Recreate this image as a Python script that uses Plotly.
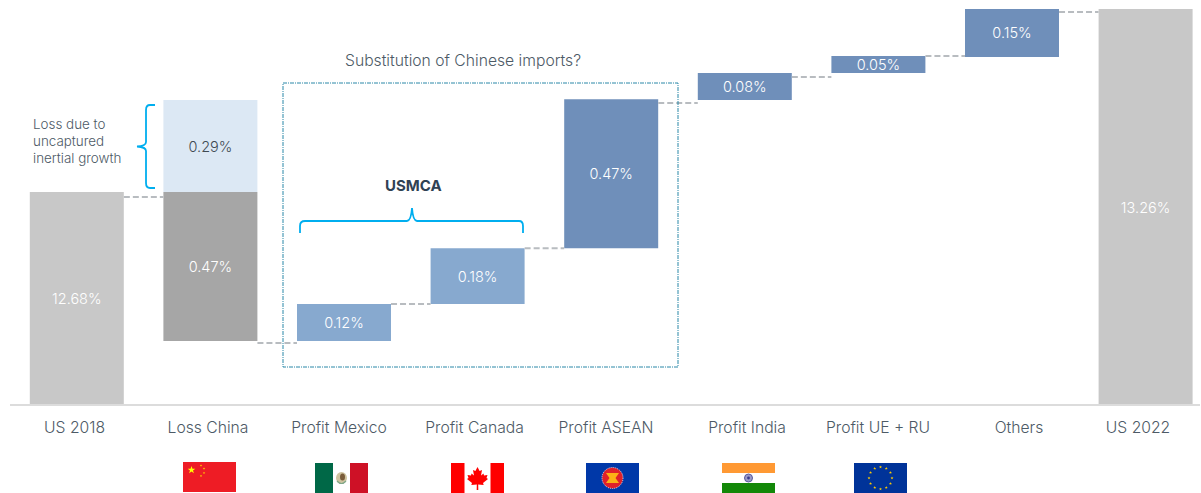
import base64, math
import plotly.graph_objects as go

W, H = 1201, 493
BASE_PX = 405
FONT = "Inter, 'Open Sans', sans-serif"

categories = ["US 2018", "Loss China", "Profit Mexico", "Profit Canada", "Profit ASEAN",
              "Profit India", "Profit UE + RU", "Others", "US 2022"]
bar_bottom = [12.0, 12.203, 12.203, 12.321, 12.498, 12.968, 13.054, 13.105, 12.0]
bar_top = [12.676, 12.676, 12.321, 12.498, 12.971, 13.054, 13.108, 13.257, 13.257]
bar_labels = ["12.68%", "0.47%", "0.12%", "0.18%", "0.47%", "0.08%", "0.05%", "0.15%", "13.26%"]
bar_colors = ["#c8c8c8", "#a6a6a6", "#87a9cf", "#87a9cf", "#6f8fba", "#6f8fba", "#6f8fba", "#6f8fba", "#c8c8c8"]
extra_bottom = [12.676]
extra_top = [12.968]
extra_label = ["0.29%"]
connector_levels = [12.66, 12.197, 12.321, 12.498, 12.959, 13.041, 13.108, 13.248]
tick_centers_px = [74.5, 208, 339, 474.5, 606, 747, 878, 1019, 1138]

STEP = 133.6
FIRST = 76.8
x_range = [-FIRST / STEP, (W - FIRST) / STEP]
k = 315
y_range = [12.0, 12.0 + BASE_PX / k]
positions = list(range(len(categories)))


def px(x):
    return x / W


def py(y):
    return (BASE_PX - y) / BASE_PX


def uri(svg):
    return "data:image/svg+xml;base64," + base64.b64encode(svg.encode()).decode()


def star(cx, cy, r, fill):
    pts = []
    for i in range(10):
        a = -math.pi / 2 + i * math.pi / 5
        rr = r if i % 2 == 0 else r * 0.4
        pts.append(f"{cx + rr * math.cos(a):.2f},{cy + rr * math.sin(a):.2f}")
    return f'<polygon points="{" ".join(pts)}" fill="{fill}"/>'


def svg(body):
    return f'<svg xmlns="http://www.w3.org/2000/svg" width="53" height="30" viewBox="0 0 53 30">{body}</svg>'


china = svg('<rect width="53" height="30" fill="#ee1c25"/>' + star(8.5, 8, 4, "#ffff00")
            + star(18, 3.5, 1.3, "#ffcc00") + star(21, 6.5, 1.3, "#ffcc00")
            + star(21, 11, 1.3, "#ffcc00") + star(18, 14, 1.3, "#ffcc00"))
mexico = svg('<rect width="18" height="30" fill="#006847"/><rect x="18" width="17" height="30" fill="#fff"/>'
             '<rect x="35" width="18" height="30" fill="#ce1126"/>'
             '<ellipse cx="26.5" cy="15" rx="5.5" ry="6" fill="#cfc4a0"/><ellipse cx="27.5" cy="14" rx="2.5" ry="3.5" fill="#7a5c3a"/>'
             '<path d="M22 18 Q26.5 23 31 18" fill="none" stroke="#7fa88a" stroke-width="1.2"/>')
canada = svg('<rect width="53" height="30" fill="#ff0000"/><rect x="13.5" width="26" height="30" fill="#fff"/>'
             '<path d="M26.5 4 L28.6 8 L31 7 L30 12.5 L32.5 10.5 L33 12.5 L36.5 12 L35.5 15 L37 16 L32 20 L32.7 22 L27.2 21.4 L27.3 27 L25.7 27 L25.8 21.4 L20.3 22 L21 20 L16 16 L17.5 15 L16.5 12 L20 12.5 L20.5 10.5 L23 12.5 L22 7 L24.4 8 Z" fill="#ff0000"/>')
asean = svg('<rect width="53" height="30" fill="#0038a8"/><circle cx="26.5" cy="15" r="10.5" fill="#e0202a" stroke="#fff" stroke-width="0.8" stroke-dasharray="1 1"/>'
            '<path d="M20 10 L33 10 L29.5 15 L33 20 L20 20 L23.5 15 Z" fill="#fcb116"/>')
india = svg('<rect width="53" height="10" fill="#ff9933"/><rect y="10" width="53" height="10" fill="#fff"/>'
            '<rect y="20" width="53" height="10" fill="#138808"/>'
            '<circle cx="26.5" cy="15" r="4" fill="#9a9ac8" stroke="#5a5a9c" stroke-width="1"/><circle cx="26.5" cy="15" r="1.4" fill="#3a3a8c"/>')
eu_stars = "".join(star(26.5 + 11.5 * math.cos(i * math.pi / 6), 15 + 11 * math.sin(i * math.pi / 6), 1.6, "#ffcc00") for i in range(12))
eu = svg('<rect width="53" height="30" fill="#003399"/>' + eu_stars)

flags = [(china, 183, 462), (mexico, 315, 463), (canada, 451, 463), (asean, 586, 463), (india, 722, 463), (eu, 854, 463)]

fig = go.Figure()
fig.add_bar(x=positions, base=bar_bottom, y=[t - b for t, b in zip(bar_top, bar_bottom)],
            marker=dict(color=bar_colors, line=dict(width=0)), width=94 / STEP,
            text=bar_labels, textposition="inside", insidetextanchor="middle", textangle=0,
            constraintext="none", textfont=dict(family=FONT, size=14.5, color="#ffffff", weight=300),
            hoverinfo="skip", showlegend=False)
fig.add_bar(x=positions[1:2], base=extra_bottom, y=[t - b for t, b in zip(extra_top, extra_bottom)],
            marker=dict(color="#dce8f4", line=dict(width=0)), width=94 / STEP,
            text=extra_label, textposition="inside", insidetextanchor="middle", textangle=0,
            constraintext="none", textfont=dict(family=FONT, size=14.5, color="#404a52", weight=300),
            hoverinfo="skip", showlegend=False)

shapes = []
for i, lvl in enumerate(connector_levels):
    shapes.append(dict(type="line", xref="x", yref="y", x0=i + 0.352, x1=i + 0.648, y0=lvl, y1=lvl,
                       line=dict(color="#b8bcc0", width=2, dash="6px,3px")))
shapes.append(dict(type="line", xref="paper", yref="paper", x0=px(10), x1=px(1200), y0=py(405), y1=py(405),
                   line=dict(color="#dcdcdc", width=2)))
shapes.append(dict(type="rect", xref="paper", yref="paper", x0=px(283), x1=px(678), y0=py(83), y1=py(367),
                   line=dict(color="#2a88a8", width=1, dash="4px,1px,1px,1px")))


def brace(cmds):
    out = []
    for c in cmds:
        if isinstance(c, str):
            out.append(c)
        else:
            out.append(f"{px(c[0]):.5f},{py(c[1]):.5f}")
    return " ".join(out)


top_brace = brace(["M", (300, 233), "L", (300, 226), "Q", (300, 221), (305, 221), "L", (407, 221), "Q", (411, 221), (412, 208),
                   "Q", (413, 221), (417, 221), "L", (519, 221), "Q", (523, 221), (523, 226), "L", (523, 233)])
left_brace = brace(["M", (155, 105), "L", (150, 105), "Q", (146, 105), (146, 110), "L", (146, 142), "Q", (146, 146), (137, 146.5),
                    "Q", (146, 147), (146, 151), "L", (146, 183), "Q", (146, 188), (150, 188), "L", (155, 188)])
for p in (top_brace, left_brace):
    shapes.append(dict(type="path", xref="paper", yref="paper", path=p, line=dict(color="#00aeef", width=1.8)))

images = [dict(source=uri(s), xref="paper", yref="paper", x=px(x), y=py(y), sizex=53 / W, sizey=30 / BASE_PX,
               xanchor="left", yanchor="top", sizing="stretch", layer="above") for s, x, y in flags]


def note(text, x, y, anchor="center", **font):
    f = dict(family=FONT, size=15.7, color="#4d5a66", weight=300)
    f.update(font)
    return dict(text=text, xref="paper", yref="paper", x=px(x), y=py(y), xanchor=anchor, yanchor="middle",
                showarrow=False, font=f, align="left")


annotations = [
    note("Substitution of Chinese imports?", 463, 61),
    note("<b>USMCA</b>", 413, 185, size=15, color="#2f4254", weight=700),
    note("Loss due to", 31, 124, "left", size=13.4),
    note("uncaptured", 31, 141, "left", size=13.4),
    note("inertial growth", 31, 158, "left", size=13.4),
]

fig.update_layout(
    width=W, height=H, margin=dict(l=0, r=0, t=0, b=H - BASE_PX, pad=0),
    paper_bgcolor="white", plot_bgcolor="white", barmode="overlay",
    xaxis=dict(type="linear", range=x_range, tickmode="array",
               tickvals=[(c - FIRST) / STEP for c in tick_centers_px], ticktext=categories,
               showgrid=False, zeroline=False, showline=False, ticks="outside", ticklen=8, tickcolor="rgba(0,0,0,0)",
               tickfont=dict(family=FONT, size=15.7, color="#4d5a66", weight=300)),
    yaxis=dict(range=y_range, visible=False, fixedrange=True),
    shapes=shapes, images=images, annotations=annotations, showlegend=False,
)
fig.write_html("out.html", post_script="document.body.style.margin='0';document.documentElement.style.overflow='hidden';",
               config=dict(displayModeBar=False))
